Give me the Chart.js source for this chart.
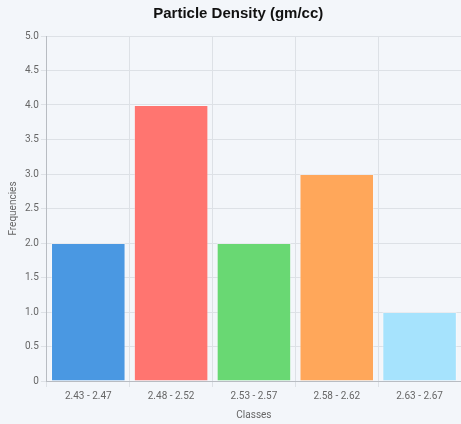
<!DOCTYPE html>
<html>
<head>
<meta charset="utf-8">
<script src="https://cdn.jsdelivr.net/npm/chart.js@4"></script>
<style>
  html, body { margin: 0; padding: 0; background: #f3f6fa; }
  #wrap { width: 461px; height: 424px; }
</style>
</head>
<body>
<div id="wrap"><canvas id="myChart"></canvas></div>
<script>
var classes = ['2.43 - 2.47', '2.48 - 2.52', '2.53 - 2.57', '2.58 - 2.62', '2.63 - 2.67'];
var frequencies = [2, 4, 2, 3, 1];
var barColors = ['#4a98e2', '#ff7570', '#69d873', '#ffa75a', '#a6e3fd'];

var ctx = document.getElementById('myChart').getContext('2d');
var myChart = new Chart(ctx, {
    type: 'bar',
    data: {
        labels: classes,
        datasets: [{
            label: 'Frequencies',
            data: frequencies,
            backgroundColor: barColors,
            borderColor: 'rgba(255,255,255,0.35)',
            borderWidth: 1,
            barPercentage: 0.9,
            categoryPercentage: 1.0
        }]
    },
    options: {
        responsive: true,
        maintainAspectRatio: false,
        animation: false,
        layout: { padding: { left: 3, right: 0, top: 0, bottom: 3 } },
        plugins: {
            legend: { display: false },
            title: {
                display: true,
                text: '   Particle Density (gm/cc)',
                color: '#111',
                font: { family: 'Liberation Sans', size: 15, weight: 'bold' },
                padding: { top: 5, bottom: 13 }
            }
        },
        scales: {
            x: {
                grid: { color: '#dde1e6', offset: true, tickLength: 6 },
                border: { color: '#b8bcc2' },
                ticks: { color: '#666', font: { family: 'Roboto', size: 10 }, padding: 3 },
                title: { display: true, text: 'Classes', color: '#666', font: { family: 'Roboto', size: 10 }, padding: { top: 4, bottom: 0 } }
            },
            y: {
                min: 0,
                max: 5,
                grid: { color: '#dde1e6', tickLength: 6 },
                border: { color: '#b8bcc2' },
                ticks: { stepSize: 0.5, color: '#666', font: { family: 'Roboto', size: 10 }, padding: 2 },
                title: { display: true, text: 'Frequencies', color: '#666', font: { family: 'Roboto', size: 10 }, padding: { bottom: 4 } }
            }
        }
    }
});
</script>
</body>
</html>
